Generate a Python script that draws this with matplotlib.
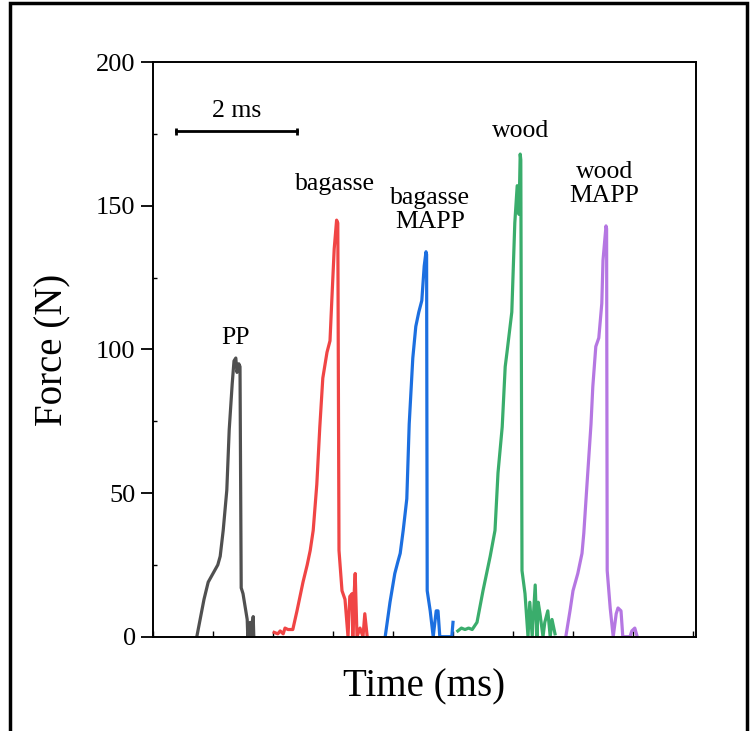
import numpy as np
import matplotlib.pyplot as plt
from matplotlib.patches import Rectangle
from matplotlib.ticker import MultipleLocator

plt.rcParams['font.family'] = ['Liberation Serif', 'DejaVu Serif']
plt.rcParams['mathtext.fontset'] = 'stix'

# traces (time in ms, force in N)
pp_t = [0.73, 0.85, 0.92, 1.00, 1.08, 1.12, 1.17, 1.23, 1.27, 1.32, 1.35, 1.38, 1.40, 1.43, 1.45, 1.47, 1.50, 1.57, 1.58, 1.62, 1.64, 1.67, 1.68]
pp_f = [0, 13, 19, 22, 25, 28, 37, 51, 72, 88, 96, 97, 92, 95, 94, 17, 15, 6, 0, 5, 0, 7, 0]

bag_t = [2.02, 2.08, 2.12, 2.17, 2.20, 2.25, 2.33, 2.40, 2.45, 2.50, 2.57, 2.62, 2.67, 2.73, 2.78, 2.83, 2.90, 2.95, 2.98, 3.02, 3.06, 3.08, 3.10,
         3.15, 3.20, 3.25, 3.28, 3.32, 3.33, 3.35, 3.37, 3.40, 3.45, 3.50, 3.53, 3.57]
bag_f = [1.5, 1, 2, 1, 3, 2.5, 2.5, 9, 14, 19, 25, 30, 37, 53, 73, 90, 99, 103, 117, 135, 145, 144, 30,
         16, 13, 0, 14, 15, 0, 14, 22, 0, 3, 0, 8, 0]

bagm_t = [3.87, 3.95, 4.03, 4.08, 4.12, 4.17, 4.23, 4.27, 4.33, 4.38, 4.43, 4.48, 4.52, 4.55, 4.56, 4.57, 4.62, 4.67, 4.72, 4.75, 4.78, 4.82, 4.98, 5.00]
bagm_f = [0, 12, 22, 26, 29, 37, 48, 74, 97, 108, 113, 117, 129, 134, 133, 16, 9, 0, 9, 9, 0, 0, 0, 5]

wood_t = [5.08, 5.14, 5.20, 5.26, 5.32, 5.40, 5.50, 5.56, 5.62, 5.70, 5.75, 5.82, 5.87, 5.90, 5.98, 6.03, 6.07, 6.10, 6.12, 6.13,
          6.15, 6.20, 6.25, 6.28, 6.32, 6.37, 6.40, 6.42, 6.45, 6.50, 6.53, 6.58, 6.62, 6.65, 6.70]
wood_f = [2, 3, 2.5, 3, 2.5, 5, 16, 22, 28, 37, 57, 73, 94, 99, 113, 144, 157, 147, 168, 166,
          23, 15, 0, 12, 0, 18, 0, 12, 8, 0, 5, 9, 0, 6, 1]

woodm_t = [6.88, 6.95, 7.00, 7.08, 7.15, 7.18, 7.23, 7.30, 7.33, 7.38, 7.43, 7.48, 7.50, 7.55, 7.56, 7.57, 7.62, 7.67, 7.72,
           7.75, 7.80, 7.83, 7.95, 7.98, 8.03, 8.07]
woodm_f = [0, 9, 16, 22, 29, 36, 52, 74, 87, 101, 104, 116, 131, 143, 142, 23, 10, 0, 8, 10, 9, 0, 0, 2, 3, 0]

series = [(pp_t, pp_f, '#505050'),
          (bag_t, bag_f, '#f04545'),
          (bagm_t, bagm_f, '#1c6fe0'),
          (wood_t, wood_f, '#3aad6c'),
          (woodm_t, woodm_f, '#b577e2')]

labels = ['PP', 'bagasse', 'bagasse\nMAPP', 'wood', 'wood\nMAPP']
label_x = [1.37, 3.03, 4.62, 6.13, 7.52]
label_y = [104, 157.5, 148.5, 176, 157.5]

fig = plt.figure(figsize=(7.5, 7.31), dpi=100)
ax = fig.add_axes([0.204, 0.129, 0.724, 0.786])

for t, f, c in series:
    ax.plot(t, f, color=c, lw=2.3, solid_joinstyle='round')

for s, x, y in zip(labels, label_x, label_y):
    ax.text(x, y, s, ha='center', va='center', fontsize=18.5, linespacing=1.1)

# 2 ms scale bar
ax.errorbar([0.38, 2.40], [176, 176], yerr=1.2, color='black', lw=2, capsize=0, elinewidth=2)
ax.text(1.39, 183, '2 ms', ha='center', va='center', fontsize=18.5)

ax.set_xlim(0, 9.05)
ax.set_ylim(0, 200)
ax.set_yticks([0, 50, 100, 150, 200])
ax.yaxis.set_minor_locator(MultipleLocator(25))
ax.xaxis.set_major_locator(MultipleLocator(1))
ax.set_xticklabels([])
ax.tick_params(axis='y', which='major', direction='out', length=9, width=1.3, labelsize=19)
ax.tick_params(axis='y', which='minor', direction='in', length=3, width=1)
ax.tick_params(axis='x', which='major', direction='in', length=4, width=1)
for sp in ax.spines.values():
    sp.set_linewidth(1.4)

ax.set_xlabel('Time (ms)', fontsize=28, labelpad=19)
ax.set_ylabel('Force (N)', fontsize=28, labelpad=18)

fig.patches.append(Rectangle((0.0133, -0.05), 0.983, 1.046, transform=fig.transFigure,
                             fill=False, edgecolor='black', lw=2.5))

fig.savefig('out.png', dpi=100)
